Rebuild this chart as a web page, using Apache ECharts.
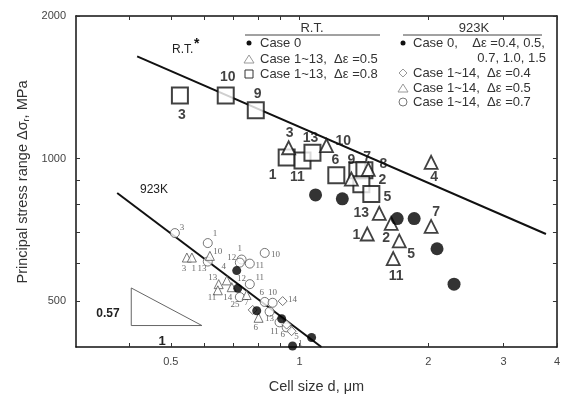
<!DOCTYPE html>
<html><head><meta charset="utf-8">
<script src="https://cdn.jsdelivr.net/npm/echarts@6/dist/echarts.min.js"></script>
<style>html,body{margin:0;padding:0;background:#fff}#c{width:563px;height:399px}</style>
</head><body><div id="c"></div>
<script>
// axis ticks / labels
const xTicks = [0.4,0.5,0.6,0.7,0.8,0.9,1,2,3,4];
const xLabels = [0.5,1,2,3,4];
const yTicks = [500,600,700,800,900,1000,2000];
const yLabels = [500,1000,2000];

// R.T. data (cell size um, stress range MPa)
const rtCase0 = [[1.090,838],[1.259,822],[1.692,747],[1.854,747],[2.097,645],[2.298,543]];
const rtTri05 = [[0.943,1054],[1.156,1065],[1.322,905],[1.448,949],[1.536,766],[1.440,693],[1.638,730],[1.711,670],[1.656,615],[2.031,982],[2.031,719]];
const rtSq08 = [[0.525,1358],[0.672,1358],[0.790,1265],[0.933,1005],[1.016,991],[1.072,1029],[1.219,922],[1.365,945],[1.418,945],[1.395,883],[1.472,842]];
// 923K data
const hkCase0 = [[0.713,580],[0.717,532],[0.794,477],[0.908,459],[1.067,419],[0.963,402]];
const hkDia04 = [[0.913,500],[0.933,446],[0.958,432],[0.777,479]];
const hkTri05 = [[0.545,618],[0.560,618],[0.617,623],[0.647,543],[0.694,535],[0.644,527],[0.752,515],[0.802,461],[0.676,553]];
const hkCirc07 = [[0.511,696],[0.610,663],[0.610,606],[0.732,612],[0.765,600],[0.829,632],[0.765,543],[0.725,510],[0.829,498],[0.865,496],[0.851,475],[0.898,451],[0.933,440],[0.725,603]];
// fitted lines & slope triangle
const rtFit = [[0.417,1644],[3.77,693]];
const hkFit = [[0.3745,846],[1.125,400]];
const slopeTri = [[0.404,533],[0.404,444],[0.591,444],[0.404,533]];
// case-number labels
const rtLabels = [[0.531,1234,'3'],[0.679,1487,'10'],[0.798,1371,'9'],[0.948,1133,'3'],[1.061,1106,'13'],[1.266,1090,'10'],[0.865,922,'1'],[0.989,914,'11'],[1.213,991,'6'],[1.322,991,'9'],[1.440,1005,'7'],[1.570,972,'8'],[1.562,900,'2'],[1.604,830,'5'],[2.064,914,'4'],[2.086,769,'7'],[1.395,766,'13'],[1.358,689,'1'],[1.595,679,'2'],[1.824,629,'5'],[1.683,564,'11']];
const hkLabels = [[0.531,713,'3'],[0.634,693,'1'],[0.537,586,'3'],[0.566,586,'1'],[0.591,586,'13'],[0.644,635,'10'],[0.694,618,'12'],[0.725,645,'1'],[0.807,594,'11'],[0.879,626,'10'],[0.665,592,'4'],[0.627,561,'13'],[0.732,559,'12'],[0.807,561,'11'],[0.624,508,'11'],[0.679,508,'14'],[0.706,491,'25'],[0.752,496,'7'],[0.816,520,'6'],[0.865,520,'10'],[0.963,503,'14'],[0.790,440,'6'],[0.851,459,'13'],[0.874,432,'11'],[0.913,425,'6'],[0.984,421,'5'],[1.005,406,'1']];

const chart = echarts.init(document.getElementById('c'), null, {renderer:'canvas'});
const axLine = {show:true, lineStyle:{color:'#111', width:1.5}};
const tri = 'path://M0,10L5,0L10,10Z';
const dia = 'path://M0,5L5,0L10,5L5,10Z';
const F = 'Liberation Sans';
function xAx(pos, labels){
  return {type:'log', position:pos, min:0.3, max:4, logBase:10,
    axisLine:axLine, splitLine:{show:false}, minorTick:{show:false},
    axisTick:{show:true, inside:true, length:4, customValues:xTicks, lineStyle:{color:'#333'}},
    axisLabel:{show:labels, customValues:xLabels, color:'#444', fontFamily:F, fontSize:11, margin:9, formatter:v=>String(v)},
    name: labels ? 'Cell size d, \u03bcm' : '', nameLocation:'middle', nameGap:32,
    nameTextStyle:{color:'#333', fontFamily:F, fontSize:14.5}};
}
function yAx(pos, labels){
  return {type:'log', position:pos, min:400, max:2000, logBase:10,
    axisLine:axLine, splitLine:{show:false}, minorTick:{show:false},
    axisTick:{show:true, inside:true, length:4, customValues:yTicks, lineStyle:{color:'#333'}},
    axisLabel:{show:labels, customValues:yLabels, color:'#444', fontFamily:F, fontSize:11, margin:10, formatter:v=>String(v)}};
}
function sc(name, data, symbol, size, filled, color, lw){
  return {type:'scatter', name, data, symbol, symbolSize:size, xAxisIndex:0, yAxisIndex:0, z:5,
    itemStyle: filled ? {color:color} : {color:'#fff', borderColor:color, borderWidth:lw}};
}
function labelSeries(data, font){
  return {type:'scatter', data, symbolSize:0, z:6, silent:true,
    label:Object.assign({show:true, position:'inside', formatter:p=>p.data[2]}, font)};
}
function ln(data, color, w){
  return {type:'line', data, symbol:'none', z:4, lineStyle:{color, width:w}};
}
const T = (x,y,text,font,align,fill) => ({type:'text', x, y, style:{text, fill:fill||'#333', font, align:align||'left', verticalAlign:'middle'}});
const LF = '13px Liberation Sans';
const option = {
  animation:false,
  backgroundColor:'#fff',
  grid:{left:76, right:4, top:16, bottom:46, containLabel:false},
  xAxis:[xAx('bottom', true), xAx('top', false)],
  yAxis:[yAx('left', true), yAx('right', false)],
  series:[
    ln(rtFit,'#111',2), ln(hkFit,'#111',2), ln(slopeTri,'#666',1),
    sc('rtSq', rtSq08, 'rect', 16, false, '#111', 2),
    sc('rtTri', rtTri05, tri, 13, false, '#111', 1.8),
    sc('rtC0', rtCase0, 'circle', 13, true, '#000'),
    sc('hkCirc', hkCirc07, 'circle', 9, false, '#555', 1),
    sc('hkTri', hkTri05, tri, 9, false, '#555', 1),
    sc('hkDia', hkDia04, dia, 9, false, '#555', 1),
    sc('hkC0', hkCase0, 'circle', 9, true, '#000'),
    labelSeries(rtLabels, {fontFamily:F, fontWeight:'bold', fontSize:14, color:'#111'}),
    labelSeries(hkLabels, {fontFamily:'Liberation Serif', fontSize:9, color:'#444'})
  ],
  graphic:[
    {type:'text', x:23, y:182, rotation:Math.PI/2, style:{text:'Principal stress range \u0394\u03c3{s|r}, MPa', fill:'#333', font:'14.5px Liberation Sans', align:'center', verticalAlign:'middle', rich:{s:{fontSize:9, fontFamily:F, verticalAlign:'bottom', padding:[7,0,0,0]}}}},
    T(172,50,'R.T.','12px Liberation Sans','left','#222'),
    T(194,44,'*','bold 14px Liberation Sans','left','#111'),
    T(154,190,'923K','12px Liberation Sans','center','#222'),
    T(108,314,'0.57','bold 12px Liberation Sans','center','#222'),
    T(162,341,'1','bold 13px Liberation Sans','center','#222'),
    // legend R.T.
    T(312,28,'R.T.',LF,'center'),
    {type:'line', shape:{x1:245,y1:35,x2:380,y2:35}, style:{stroke:'#444', lineWidth:1}},
    {type:'circle', shape:{cx:249,cy:43,r:2.5}, style:{fill:'#111'}},
    T(260,43,'Case 0',LF),
    {type:'polygon', shape:{points:[[244,63],[249,55],[254,63]]}, style:{fill:'none', stroke:'#999', lineWidth:1}},
    T(260,59,'Case 1~13,  \u0394\u03b5 =0.5',LF),
    {type:'rect', shape:{x:245,y:70,width:8,height:8}, style:{fill:'none', stroke:'#333', lineWidth:1}},
    T(260,74,'Case 1~13,  \u0394\u03b5 =0.8',LF),
    // legend 923K
    T(474,28,'923K',LF,'center'),
    {type:'line', shape:{x1:403,y1:35,x2:542,y2:35}, style:{stroke:'#444', lineWidth:1}},
    {type:'circle', shape:{cx:403,cy:43,r:2.5}, style:{fill:'#111'}},
    T(413,43,'Case 0,    \u0394\u03b5 =0.4, 0.5,',LF),
    T(546,58,'0.7, 1.0, 1.5',LF,'right'),
    {type:'polygon', shape:{points:[[403,69],[407,73],[403,77],[399,73]]}, style:{fill:'none', stroke:'#999', lineWidth:1}},
    T(413,73,'Case 1~14,  \u0394\u03b5 =0.4',LF),
    {type:'polygon', shape:{points:[[398,92],[403,84],[408,92]]}, style:{fill:'none', stroke:'#999', lineWidth:1}},
    T(413,88,'Case 1~14,  \u0394\u03b5 =0.5',LF),
    {type:'circle', shape:{cx:403,cy:102,r:4}, style:{fill:'none', stroke:'#777', lineWidth:1}},
    T(413,102,'Case 1~14,  \u0394\u03b5 =0.7',LF)
  ]
};
chart.setOption(option);
</script></body></html>
